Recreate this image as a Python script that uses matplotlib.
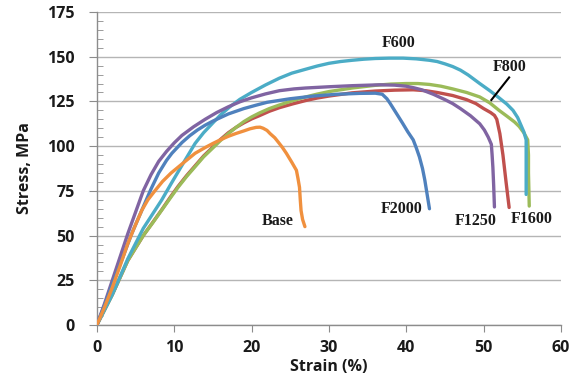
import matplotlib
matplotlib.use("Agg")
import matplotlib.pyplot as plt
from matplotlib.ticker import MultipleLocator

# ---- data ----
f600_x = [0, 2, 4, 5, 6, 7.2, 8.4, 9.6, 10.9, 11.8, 12.7, 13.8, 15, 16, 17.2, 18.5, 20, 21.8, 23.6, 25.2, 27, 28.5, 30, 31.5, 33, 34.5, 36, 37.8, 39.6, 41.3, 43, 44, 45, 46, 47, 48, 49.5, 50.8, 52, 53, 53.8, 54.4, 54.8, 55.2, 55.5, 55.5, 55.5]
f600_y = [0, 17, 37, 45.5, 54, 62, 70, 79, 88.5, 95, 101.5, 107.5, 113, 117.5, 122, 126.2, 130, 134.2, 138, 140.8, 143, 144.8, 146.3, 147.3, 148, 148.6, 149, 149.2, 149.2, 148.8, 148, 147.3, 146, 144.5, 142.5, 139.8, 135, 131, 127, 123.5, 120, 116, 112, 108, 103.5, 90, 73]

f800_x = [0, 2, 4, 6, 7.2, 8.4, 9.5, 10.5, 11.6, 12.7, 13.8, 15, 16, 17, 18, 19, 20, 21, 22.3, 23.6, 25.3, 27, 28.5, 30, 33, 36, 38, 40, 41.5, 43, 44.5, 46, 47.8, 49.5, 50.8, 52, 53, 54, 54.6, 55.2, 55.7, 55.8, 55.8, 55.9]
f800_y = [0, 17, 36, 50, 57, 64.3, 71, 77, 83, 88.5, 94, 99, 103.2, 107, 110.5, 113.7, 116.3, 118.5, 121, 123, 125.4, 127.5, 129.1, 130.5, 132.5, 134, 134.7, 135, 135, 134.5, 133.5, 132, 130, 127.5, 124.2, 120, 116.8, 113.5, 111, 107.5, 103.5, 95, 85, 66.5]

f1250_x = [0, 1, 2, 3, 4, 5, 6, 7, 8, 9, 10, 11, 12.5, 14, 15.5, 17, 18.5, 20, 21.8, 23.6, 25.5, 27, 30, 33, 36.6, 38.5, 40, 41, 42, 43.5, 45, 46, 47, 48.3, 49.5, 50.1, 50.6, 51, 51.1, 51.2, 51.3, 51.4]
f1250_y = [0, 12, 25, 38, 51, 63, 75, 84, 91.5, 97, 101.8, 106, 110.8, 115, 118.8, 122, 124.8, 127, 129.2, 131, 132, 132.5, 133.2, 133.8, 134.3, 134.1, 133.5, 132.6, 131.5, 129, 126, 123.8, 121, 117, 112.5, 109, 105, 101, 95, 88, 78, 66]

f1600_x = [0, 2, 4, 6, 7.2, 8.4, 9.5, 10.5, 11.6, 12.7, 13.8, 15, 16, 17, 18, 19, 20, 21, 22.3, 23.6, 25.3, 27, 28.5, 30, 33, 36, 38.5, 40.9, 42.5, 44, 46, 47.8, 49, 50, 50.9, 51.4, 51.7, 51.9, 52.1, 52.5, 52.9, 53.3]
f1600_y = [0, 17, 36, 50, 57.2, 64.5, 71.5, 77.5, 83.5, 89, 94.5, 99.5, 103.8, 107.5, 110.5, 113, 115.2, 117, 119.5, 121.5, 123.6, 125.5, 126.9, 128, 129.8, 130.8, 131.3, 131.5, 131, 130, 128.3, 126, 123.8, 121, 118.8, 117.2, 115, 111, 107, 95, 80, 65.7]

f2000_x = [0, 1, 2, 3.2, 4.5, 6, 7, 8, 9, 9.7, 11, 12, 13, 14, 15, 17, 19, 20.5, 22, 25, 28, 31, 34, 36, 36.9, 37.5, 37.9, 38.7, 39.5, 40.2, 40.9, 41.3, 41.7, 42.1, 42.4, 42.7, 43]
f2000_y = [0, 11, 23, 36, 51, 66, 76, 85, 92, 96, 102, 105.8, 109, 111.7, 114, 118, 121, 122.8, 124.5, 126.5, 128, 129, 129.5, 129.6, 129, 126.5, 124, 118.5, 113, 108, 103.5, 99, 94, 87.5, 81, 73, 65]

base_x = [0, 1, 2, 3, 4, 4.9, 5.8, 6.6, 7.5, 8.5, 9.6, 11, 12.7, 14, 15, 16, 17, 18, 19, 19.8, 20.6, 21.1, 21.5, 22, 22.4, 23, 23.5, 24, 24.5, 25.2, 25.8, 26, 26.2, 26.3, 26.4, 26.6, 26.9]
base_y = [0, 10, 21, 33, 45.5, 55, 64, 70, 75, 80.3, 85, 90, 96, 99.2, 101.5, 103.6, 105.5, 107.1, 108.5, 109.7, 110.5, 110.6, 110, 108.8, 107, 104.7, 102, 99.2, 96, 91, 86.5, 82, 77, 70, 64, 59, 55]

series_names = ["F600", "F800", "F1250", "F1600", "F2000", "Base"]
x_ticks = [0, 10, 20, 30, 40, 50, 60]
y_ticks = [0, 25, 50, 75, 100, 125, 150, 175]

# ---- styling ----
colors = {"F600": "#4BACC6", "F800": "#9BBB59", "F1250": "#8064A2",
          "F1600": "#C0504D", "F2000": "#4F81BD", "Base": "#F0903E"}
data = {"F600": (f600_x, f600_y), "F800": (f800_x, f800_y),
        "F1250": (f1250_x, f1250_y), "F1600": (f1600_x, f1600_y),
        "F2000": (f2000_x, f2000_y), "Base": (base_x, base_y)}

fig = plt.figure(figsize=(5.73, 3.83), dpi=100)
ax = fig.add_axes([0.169, 0.1514, 0.810, 0.8173])

ax.set_xlim(0, 60)
ax.set_ylim(0, 175)
ax.set_xticks(x_ticks)
ax.set_yticks(y_ticks)
ax.yaxis.set_minor_locator(MultipleLocator(5))

ax.grid(axis="y", which="major", color="#b5b5b5", linewidth=1.0)
ax.set_axisbelow(True)
for s in ["top", "right"]:
    ax.spines[s].set_visible(False)
for s in ["left", "bottom"]:
    ax.spines[s].set_color("#8c8c8c")
    ax.spines[s].set_linewidth(1.0)

ax.tick_params(axis="y", which="major", direction="out", length=6, color="#8c8c8c", pad=10)
ax.tick_params(axis="y", which="minor", direction="in", length=4, color="#8c8c8c")
ax.tick_params(axis="x", which="major", direction="out", length=5, color="#8c8c8c", pad=6)

for lab in ax.get_xticklabels() + ax.get_yticklabels():
    lab.set_fontfamily(["Open Sans", "DejaVu Sans"])
    lab.set_fontweight("bold")
    lab.set_fontsize(11.5)
    lab.set_color("#1a1a1a")

for name in ["F1600", "F800", "F600", "F1250", "F2000", "Base"]:
    xs, ys = data[name]
    ax.plot(xs, ys, color=colors[name], linewidth=2.4, solid_joinstyle="round",
            solid_capstyle="round", zorder=3)

ax.set_xlabel("Strain (%)", fontfamily=["Open Sans", "DejaVu Sans"], fontweight="bold",
              fontsize=11.5, color="#1a1a1a", labelpad=2)
ax.set_ylabel("Stress, MPa", fontfamily=["Open Sans", "DejaVu Sans"], fontweight="bold",
              fontsize=11.5, color="#1a1a1a", labelpad=10)

ann = dict(fontfamily=["Liberation Serif", "DejaVu Serif"], fontweight="bold",
           fontsize=11.5, color="#1a1a1a", ha="center", va="center", zorder=5)
ax.text(39.0, 157.5, "F600", **ann)
ax.text(53.3, 144.5, "F800", **ann)
ax.text(39.4, 64.7, "F2000", **ann)
ax.text(49.0, 58.3, "F1250", **ann)
ax.text(56.2, 59.0, "F1600", **ann)
ax.text(23.4, 58.3, "Base", **ann)
ax.plot([53.3, 51.0], [138.4, 125.8], color="black", linewidth=1.5, zorder=4)

fig.savefig("out.png", dpi=100)
